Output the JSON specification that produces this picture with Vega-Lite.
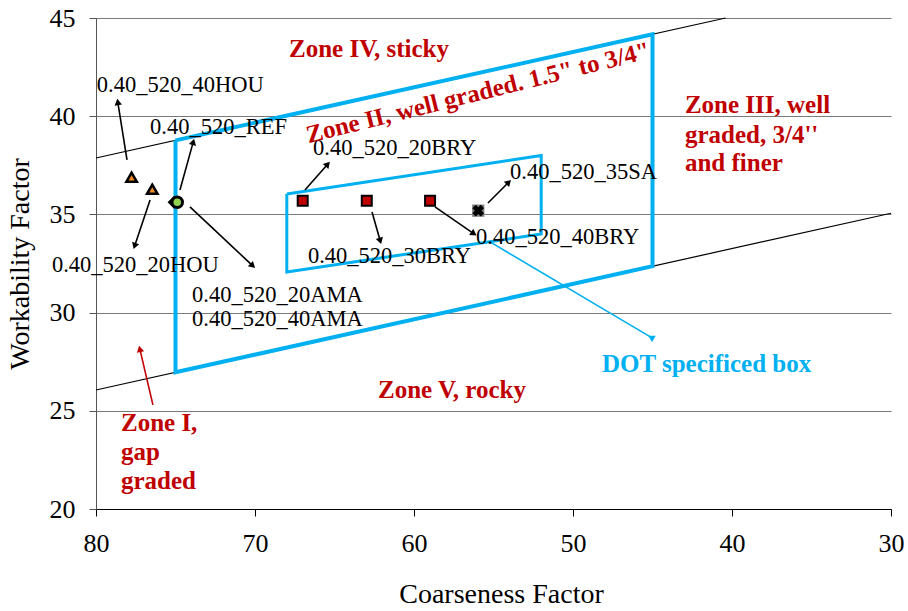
{
  "$schema": "https://vega.github.io/schema/vega-lite/v6.json",
  "width": 795,
  "height": 491,
  "autosize": "none",
  "padding": {"left": 96, "top": 18, "right": 17, "bottom": 102},
  "config": {
    "font": "Liberation Serif",
    "view": {"stroke": null},
    "axis": {
      "labelFont": "Liberation Serif",
      "titleFont": "Liberation Serif",
      "labelFontSize": 26,
      "titleFontSize": 28,
      "titleFontWeight": "normal",
      "labelColor": "black",
      "titleColor": "black",
      "tickSize": 7,
      "labelPadding": 14,
      "labelFlush": false,
      "labelOverlap": false
    }
  },
  "datasets": {
    "zonelines": [
      {"x": 80, "y": 37.87, "xe": 40.4, "ye": 45},
      {"x": 80, "y": 26.06, "xe": 30, "ye": 35.06}
    ],
    "boxes": [
      {"box": "big", "i": 0, "x": 75, "y": 38.77},
      {"box": "big", "i": 1, "x": 45, "y": 44.17},
      {"box": "big", "i": 2, "x": 45, "y": 32.36},
      {"box": "big", "i": 3, "x": 75, "y": 26.96},
      {"box": "big", "i": 4, "x": 75, "y": 38.77},
      {"box": "small", "i": 0, "x": 68, "y": 36.04},
      {"box": "small", "i": 1, "x": 52, "y": 38.0},
      {"box": "small", "i": 2, "x": 52, "y": 34.0},
      {"box": "small", "i": 3, "x": 68, "y": 32.07},
      {"box": "small", "i": 4, "x": 68, "y": 36.04}
    ],
    "arrows": [
      {"xs": 78.05, "ys": 37.77, "x": 78.62, "y": 40.67, "angle": -9, "kind": "black"},
      {"xs": 74.72, "ys": 36.24, "x": 73.9, "y": 38.64, "angle": 15, "kind": "black"},
      {"xs": 76.6, "ys": 35.73, "x": 77.55, "y": 33.44, "angle": 198, "kind": "black"},
      {"xs": 74.09, "ys": 35.38, "x": 70.19, "y": 32.42, "angle": 133, "kind": "black"},
      {"xs": 66.86, "ys": 36.24, "x": 65.47, "y": 37.52, "angle": 41, "kind": "black"},
      {"xs": 62.64, "ys": 35.12, "x": 62.14, "y": 33.7, "angle": 164, "kind": "black"},
      {"xs": 58.68, "ys": 35.38, "x": 56.29, "y": 34.05, "angle": 124, "kind": "black"},
      {"xs": 55.35, "ys": 35.58, "x": 54.09, "y": 36.6, "angle": 45, "kind": "black"},
      {"xs": 76.42, "ys": 25.3, "x": 77.23, "y": 28.1, "angle": -13, "kind": "red"},
      {"xs": 55.22, "ys": 33.6, "x": 45.03, "y": 28.71, "angle": 59, "kind": "blue"}
    ],
    "points": [
      {"mix": "0.40_520_40HOU", "grp": "HOU", "x": 77.76, "y": 36.89},
      {"mix": "0.40_520_20HOU", "grp": "HOU", "x": 76.46, "y": 36.28},
      {"mix": "0.40_520_20AMA/40AMA", "grp": "AMA", "x": 75.09, "y": 35.62},
      {"mix": "0.40_520_REF", "grp": "REF", "x": 74.89, "y": 35.62},
      {"mix": "0.40_520_20BRY", "grp": "BRY", "x": 67.0, "y": 35.7},
      {"mix": "0.40_520_30BRY", "grp": "BRY", "x": 62.97, "y": 35.7},
      {"mix": "0.40_520_40BRY", "grp": "BRY", "x": 58.99, "y": 35.7},
      {"mix": "0.40_520_35SA", "grp": "SA", "x": 55.96, "y": 35.19}
    ],
    "labels": [
      {"t": "0.40_520_40HOU", "x": 79.95, "y": 41.59},
      {"t": "0.40_520_REF", "x": 76.6, "y": 39.45},
      {"t": "0.40_520_20BRY", "x": 66.35, "y": 38.38},
      {"t": "0.40_520_35SA", "x": 53.96, "y": 37.16},
      {"t": "0.40_520_40BRY", "x": 56.1, "y": 33.85},
      {"t": "0.40_520_30BRY", "x": 66.67, "y": 32.88},
      {"t": "0.40_520_20HOU", "x": 82.77, "y": 32.42},
      {"t": "0.40_520_20AMA", "x": 73.96, "y": 30.9},
      {"t": "0.40_520_40AMA", "x": 73.96, "y": 29.67}
    ],
    "zonesCenter": [
      {"t": "Zone IV, sticky", "x": 62.83, "y": 43.42},
      {"t": "Zone V, rocky", "x": 57.61, "y": 26.06}
    ],
    "zonesLeft": [
      {"t": "Zone III, well", "x": 42.96, "y": 40.57},
      {"t": "graded, 3/4''", "x": 42.96, "y": 39.04},
      {"t": "and finer", "x": 42.96, "y": 37.62},
      {"t": "Zone I,", "x": 78.43, "y": 24.38},
      {"t": "gap", "x": 78.43, "y": 22.9},
      {"t": "graded", "x": 78.43, "y": 21.42}
    ],
    "zoneII": [
      {"t": "Zone II, well graded. 1.5\" to 3/4\"", "x": 55.97, "y": 41.2}
    ],
    "dot": [
      {"t": "DOT specificed box", "x": 48.18, "y": 27.38}
    ]
  },
  "layer": [
    {
      "data": {"name": "zonelines"},
      "mark": {"type": "rule", "color": "black", "strokeWidth": 1.2},
      "encoding": {
        "x": {
          "field": "x", "type": "quantitative",
          "scale": {"domain": [30, 80], "reverse": true, "nice": false, "zero": false},
          "axis": {"title": "Coarseness Factor", "values": [80, 70, 60, 50, 40, 30], "grid": false, "domainColor": "black", "tickColor": "black", "titlePadding": 24, "titleX": 405}
        },
        "y": {
          "field": "y", "type": "quantitative",
          "scale": {"domain": [20, 45], "nice": false, "zero": false},
          "axis": {"title": "Workability Factor", "values": [20, 25, 30, 35, 40, 45], "grid": true, "gridColor": "#7a7a7a", "gridWidth": 1, "domainColor": "#555555", "tickColor": "#555555", "titlePadding": 15}
        },
        "x2": {"field": "xe"},
        "y2": {"field": "ye"}
      }
    },
    {
      "data": {"name": "boxes"},
      "transform": [{"filter": "datum.box === 'big'"}],
      "mark": {"type": "line", "color": "#00b0f0", "strokeWidth": 4},
      "encoding": {
        "x": {"field": "x", "type": "quantitative"},
        "y": {"field": "y", "type": "quantitative"},
        "order": {"field": "i"}
      }
    },
    {
      "data": {"name": "boxes"},
      "transform": [{"filter": "datum.box === 'small'"}],
      "mark": {"type": "line", "color": "#00b0f0", "strokeWidth": 3},
      "encoding": {
        "x": {"field": "x", "type": "quantitative"},
        "y": {"field": "y", "type": "quantitative"},
        "order": {"field": "i"}
      }
    },
    {
      "data": {"name": "arrows"},
      "mark": {"type": "rule", "strokeWidth": 1.6},
      "encoding": {
        "x": {"field": "xs", "type": "quantitative"},
        "y": {"field": "ys", "type": "quantitative"},
        "x2": {"field": "x"},
        "y2": {"field": "y"},
        "color": {"field": "kind", "type": "nominal", "scale": {"domain": ["black", "red", "blue"], "range": ["#000000", "#c00000", "#00b0f0"]}, "legend": null}
      }
    },
    {
      "data": {"name": "arrows"},
      "mark": {"type": "point", "shape": "triangle", "filled": true, "size": 55, "opacity": 1},
      "encoding": {
        "x": {"field": "x", "type": "quantitative"},
        "y": {"field": "y", "type": "quantitative"},
        "angle": {"field": "angle", "type": "quantitative", "scale": null},
        "color": {"field": "kind", "type": "nominal", "scale": {"domain": ["black", "red", "blue"], "range": ["#000000", "#c00000", "#00b0f0"]}, "legend": null}
      }
    },
    {
      "data": {"name": "points"},
      "transform": [{"filter": "datum.grp === 'HOU'"}],
      "mark": {"type": "point", "shape": "triangle-up", "filled": true, "fill": "#f08a24", "stroke": "black", "strokeWidth": 2.5, "size": 110, "opacity": 1},
      "encoding": {
        "x": {"field": "x", "type": "quantitative"},
        "y": {"field": "y", "type": "quantitative"}
      }
    },
    {
      "data": {"name": "points"},
      "transform": [{"filter": "datum.grp === 'AMA'"}],
      "mark": {"type": "point", "shape": "diamond", "filled": true, "fill": "black", "size": 170, "opacity": 1},
      "encoding": {
        "x": {"field": "x", "type": "quantitative"},
        "y": {"field": "y", "type": "quantitative"}
      }
    },
    {
      "data": {"name": "points"},
      "transform": [{"filter": "datum.grp === 'REF'"}],
      "mark": {"type": "point", "shape": "circle", "filled": true, "fill": "#92d050", "stroke": "black", "strokeWidth": 3, "size": 110, "opacity": 1},
      "encoding": {
        "x": {"field": "x", "type": "quantitative"},
        "y": {"field": "y", "type": "quantitative"}
      }
    },
    {
      "data": {"name": "points"},
      "transform": [{"filter": "datum.grp === 'BRY'"}],
      "mark": {"type": "point", "shape": "square", "filled": true, "fill": "#c00000", "stroke": "black", "strokeWidth": 2, "size": 100, "opacity": 1},
      "encoding": {
        "x": {"field": "x", "type": "quantitative"},
        "y": {"field": "y", "type": "quantitative"}
      }
    },
    {
      "data": {"name": "points"},
      "transform": [{"filter": "datum.grp === 'SA'"}],
      "mark": {"type": "point", "shape": "square", "filled": true, "fill": "#808080", "size": 150, "opacity": 1},
      "encoding": {
        "x": {"field": "x", "type": "quantitative"},
        "y": {"field": "y", "type": "quantitative"}
      }
    },
    {
      "data": {"name": "points"},
      "transform": [{"filter": "datum.grp === 'SA'"}],
      "mark": {"type": "point", "shape": "cross", "filled": true, "fill": "black", "size": 140, "angle": 45, "opacity": 1},
      "encoding": {
        "x": {"field": "x", "type": "quantitative"},
        "y": {"field": "y", "type": "quantitative"}
      }
    },
    {
      "data": {"name": "labels"},
      "mark": {"type": "text", "align": "left", "baseline": "middle", "fontSize": 22.5, "color": "black"},
      "encoding": {
        "x": {"field": "x", "type": "quantitative"},
        "y": {"field": "y", "type": "quantitative"},
        "text": {"field": "t"}
      }
    },
    {
      "data": {"name": "zonesCenter"},
      "mark": {"type": "text", "align": "center", "baseline": "middle", "fontSize": 25, "fontWeight": "bold", "color": "#c00000"},
      "encoding": {
        "x": {"field": "x", "type": "quantitative"},
        "y": {"field": "y", "type": "quantitative"},
        "text": {"field": "t"}
      }
    },
    {
      "data": {"name": "zonesLeft"},
      "mark": {"type": "text", "align": "left", "baseline": "middle", "fontSize": 25, "fontWeight": "bold", "color": "#c00000"},
      "encoding": {
        "x": {"field": "x", "type": "quantitative"},
        "y": {"field": "y", "type": "quantitative"},
        "text": {"field": "t"}
      }
    },
    {
      "data": {"name": "zoneII"},
      "mark": {"type": "text", "align": "center", "baseline": "middle", "fontSize": 25, "fontWeight": "bold", "color": "#c00000", "angle": 346},
      "encoding": {
        "x": {"field": "x", "type": "quantitative"},
        "y": {"field": "y", "type": "quantitative"},
        "text": {"field": "t"}
      }
    },
    {
      "data": {"name": "dot"},
      "mark": {"type": "text", "align": "left", "baseline": "middle", "fontSize": 25, "fontWeight": "bold", "color": "#00b0f0"},
      "encoding": {
        "x": {"field": "x", "type": "quantitative"},
        "y": {"field": "y", "type": "quantitative"},
        "text": {"field": "t"}
      }
    }
  ]
}
